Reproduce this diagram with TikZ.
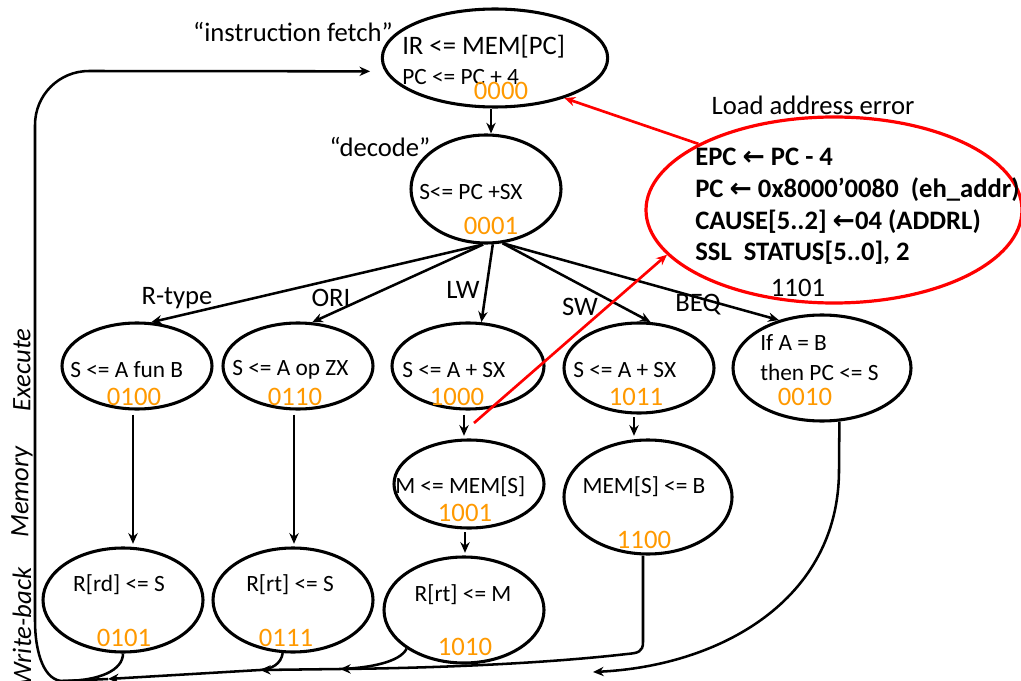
\documentclass[tikz,border=0pt]{standalone}
\usepackage{fontspec}
\setmainfont{Carlito}
\newfontfamily\arrowfont{DejaVu Sans}
\usetikzlibrary{shapes.geometric,arrows.meta}
\definecolor{numorange}{RGB}{255,153,0}
\definecolor{errred}{RGB}{255,0,0}
\begin{document}
\begin{tikzpicture}[x=0.75pt,y=-0.75pt]
    \tikzstyle{every node}+=[inner sep=0pt]
    \tikzstyle{bubble}=[draw=black, line width=2.3pt, ellipse]
    \tikzstyle{txt}=[font=\fontsize{17.5}{21}\selectfont]
    \tikzstyle{big}=[font=\fontsize{20}{24}\selectfont]
    \tikzstyle{bold}=[font=\fontsize{20}{24}\selectfont\bfseries]
    \tikzstyle{phase}=[font=\fontsize{20}{24}\selectfont\itshape, rotate=90]
    \tikzstyle{num}=[big, text=numorange]
    \tikzstyle{arr}=[line width=1.9pt, -{Stealth[length=8pt,width=7pt]}]
    \tikzstyle{errarr}=[arr, draw=errred, line width=2pt]
    \useasboundingbox (0,0) rectangle (1021,681);
    % states
    \node [bubble, minimum width=169pt, minimum height=73.5pt] (fetch) at (495,58) {};
    \node [bubble, minimum width=112.5pt, minimum height=81pt] (decode) at (486,189) {};
    \node [bubble, minimum width=112.5pt, minimum height=64.5pt] (rexe) at (137,366) {};
    \node [bubble, minimum width=112.5pt, minimum height=64.5pt] (oriexe) at (298,366) {};
    \node [bubble, minimum width=114pt, minimum height=64.5pt] (lwexe) at (468,366) {};
    \node [bubble, minimum width=112.5pt, minimum height=67.5pt] (swexe) at (639,368) {};
    \node [bubble, minimum width=133.5pt, minimum height=79.5pt] (beqexe) at (822,368) {};
    \node [bubble, minimum width=112.5pt, minimum height=66pt] (lwmem) at (469,484) {};
    \node [bubble, minimum width=126pt, minimum height=85.5pt] (swmem) at (648,497) {};
    \node [bubble, minimum width=120pt, minimum height=78pt] (rwb) at (123,600) {};
    \node [bubble, minimum width=120pt, minimum height=78pt] (oriwb) at (293,600) {};
    \node [bubble, minimum width=120pt, minimum height=79.5pt] (lwwb) at (464,610) {};
    \node [bubble, draw=errred, line width=2.4pt, minimum width=282pt, minimum height=139.5pt] (err) at (834,210) {};
    % state texts
    \node [big, anchor=west] (fetcha) at (402,47) {IR <= MEM[PC]};
    \node [txt, anchor=west] (fetchb) at (402,77) {PC <= PC + 4};
    \node [num] (fetchn) at (501,91) {0000};
    \node [txt, anchor=west] (decodea) at (419,192) {S<= PC +SX};
    \node [num] (decoden) at (491,226) {0001};
    \node [txt, anchor=west] (rexea) at (70,370) {S <= A fun B};
    \node [num] (rexen) at (134,397) {0100};
    \node [txt, anchor=west] (oriexea) at (232,370) {S <= A op ZX};
    \node [num] (oriexen) at (295,397) {0110};
    \node [txt, anchor=west] (lwexea) at (402,370) {S <= A + SX};
    \node [num] (lwexen) at (457,397) {1000};
    \node [txt, anchor=west] (swexea) at (573,370) {S <= A + SX};
    \node [num] (swexen) at (636,397) {1011};
    \node [txt, anchor=west] (beqexea) at (760,343) {If A = B};
    \node [txt, anchor=west] (beqexeb) at (760,372) {then PC <= S};
    \node [num] (beqexen) at (805,397) {0010};
    \node [txt, anchor=west] (lwmema) at (395,487) {M <= MEM[S]};
    \node [num] (lwmemn) at (465,513) {1001};
    \node [txt] (swmema) at (644,487) {MEM[S] <= B};
    \node [num] (swmemn) at (644,540) {1100};
    \node [txt] (rwba) at (119,585) {R[rd] <= S};
    \node [num] (rwbn) at (124,638) {0101};
    \node [txt] (oriwba) at (290,585) {R[rt] <= S};
    \node [num] (oriwbn) at (286,638) {0111};
    \node [txt] (lwwba) at (463,595) {R[rt] <= M};
    \node [num] (lwwbn) at (465,647) {1010};
    % exception state
    \node [big] (errtitle) at (813,105) {Load address error};
    \node [bold, anchor=west] (erra) at (695,157) {EPC {\arrowfont ←} PC - 4};
    \node [bold, anchor=west] (errb) at (695,190) {PC {\arrowfont ←} 0x8000’0080\ \ (eh\_addr)};
    \node [bold, anchor=west] (errc) at (695,222) {CAUSE[5..2] {\arrowfont ←}04 (ADDRL)};
    \node [bold, anchor=west] (errd) at (695,253) {SSL\ \ STATUS[5..0], 2};
    \node [big] (errn) at (798,288) {1101};
    % labels
    \node [big] (fetchlbl) at (293,32) {“instruction fetch”};
    \node [big] (decodelbl) at (380,147) {“decode”};
    \node [big] (rlbl) at (177,298) {R-type};
    \node [big] (orilbl) at (331,298) {ORI};
    \node [big] (lwlbl) at (463,290) {LW};
    \node [big] (swlbl) at (580,307) {SW};
    \node [big] (beqlbl) at (698,305) {BEQ};
    \node [phase] (exelbl) at (22,370) {Execute};
    \node [phase] (memlbl) at (22,492) {Memory};
    \node [phase] (wblbl) at (22,627) {Write-back};
    % free ends
    \coordinate (loopin) at (108,679);
    \coordinate (joinw2) at (260,670);
    \coordinate (joinw3) at (340,669);
    \coordinate (beqin) at (593,672);
    \coordinate (lwerr) at (474,423);
    % transitions
    \draw [arr] ([xshift=-3pt]fetch.south) -- ([xshift=3.75pt]decode.north);
    \draw [arr] (decode.-93) -- (rexe.72);
    \draw [arr] (decode.-93) -- (oriexe.72);
    \draw [arr] (decode.-83) -- (lwexe.73);
    \draw [arr] (decode.-73) -- (swexe.76);
    \draw [arr] (decode.-73) -- (beqexe.132);
    \draw [arr] ([xshift=-3pt,yshift=-3pt]rexe.south) -- ([xshift=7.5pt,yshift=2pt]rwb.north);
    \draw [arr] ([xshift=-3pt,yshift=-3pt]oriexe.south) -- ([xshift=0.75pt,yshift=2pt]oriwb.north);
    \draw [arr] ([xshift=-3pt,yshift=-3pt]lwexe.south) -- ([xshift=-3.75pt,yshift=2pt]lwmem.north);
    \draw [arr] ([xshift=-3pt,yshift=-2pt]lwmem.south) -- ([xshift=0.75pt,yshift=2pt]lwwb.north);
    \draw [arr] ([xshift=-3.75pt,yshift=-2pt]swexe.south) -- ([xshift=-10.5pt,yshift=2pt]swmem.north);
    % back to fetch
    \draw [line width=1.9pt] (rwb.south) .. controls (123,670) and (100,681) .. (63,681);
    \draw [arr] (loopin) -- (63,681) .. controls (45,681) and (35,655) .. (35,620) -- (35,125)
        .. controls (35,95) and (59,71) .. (89,71) -- ([xshift=-8pt,yshift=-10pt]fetch.west);
    \draw [arr] (oriwb.-101) .. controls (281,664) and (272,669) .. (joinw2) -- (loopin);
    \draw [arr] (lwwb.-146) .. controls (400,662) and (370,668) .. (joinw3) -- (joinw2);
    \draw [arr] ([xshift=-3.75pt]swmem.south) -- (643,642) .. controls (643,652) and (638,653) .. (627,654)
        .. controls (540,664) and (430,668) .. (joinw3);
    \draw [arr] (beqexe.-72) -- (839,470) .. controls (839,600) and (720,666) .. (beqin);
    % exception
    \draw [errarr] (err.154) -- (fetch.-30);
    \draw [errarr] (lwerr) -- (err.195);
\end{tikzpicture}
\end{document}
